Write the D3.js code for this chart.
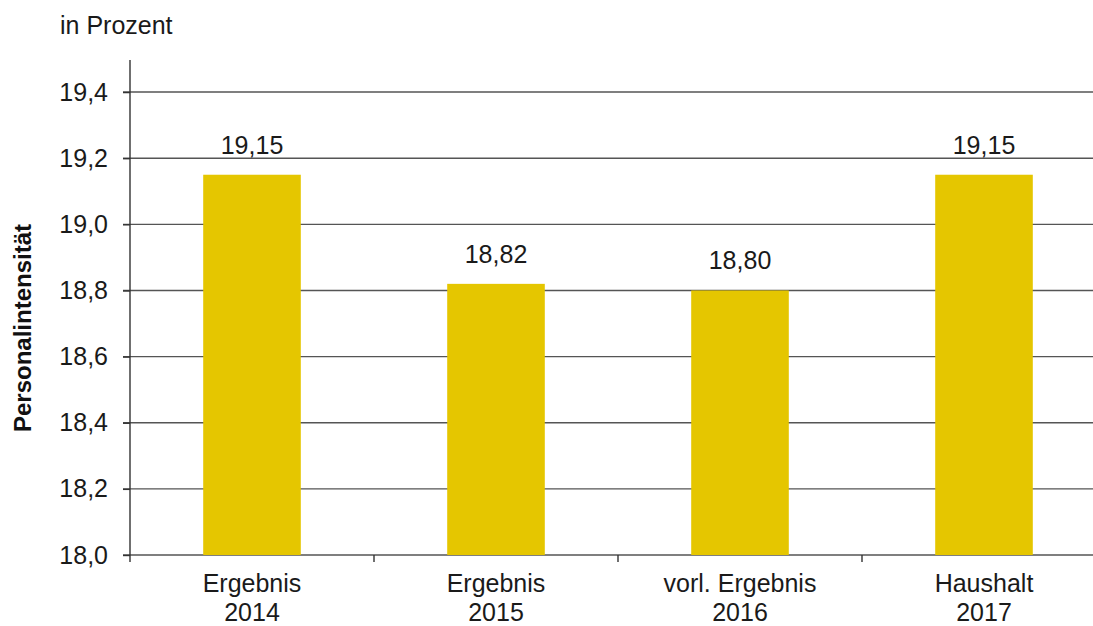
<!DOCTYPE html>
<html>
<head>
<meta charset="utf-8">
<script src="https://cdnjs.cloudflare.com/ajax/libs/d3/7.8.5/d3.min.js"></script>
<style>
  body { margin: 0; background: #fff; }
  svg { display: block; font-family: "Liberation Sans", Arial, sans-serif; }
</style>
</head>
<body>
<script>
// data
var categories = [["Ergebnis", "2014"], ["Ergebnis", "2015"], ["vorl. Ergebnis", "2016"], ["Haushalt", "2017"]];
var values = [19.15, 18.82, 18.80, 19.15];
var valueLabels = ["19,15", "18,82", "18,80", "19,15"];
var yTicks = [18.0, 18.2, 18.4, 18.6, 18.8, 19.0, 19.2, 19.4];

var W = 1093, H = 626;
var mLeft = 130, mBottom = 555, mTop = 59, mRight = 1106;

var svg = d3.select("body").append("svg")
    .attr("width", W)
    .attr("height", H);

var x = d3.scaleBand()
    .domain(d3.range(categories.length))
    .range([mLeft, mRight])
    .padding(0);

var y = d3.scaleLinear()
    .domain([18.0, 19.5])
    .range([mBottom, mTop]);

var fmt = function(d) { return d.toFixed(1).replace(".", ","); };

// gridlines
svg.append("g")
  .selectAll("line")
  .data(yTicks)
  .enter().append("line")
    .attr("x1", mLeft - 7)
    .attr("x2", W)
    .attr("y1", function(d) { return y(d); })
    .attr("y2", function(d) { return y(d); })
    .attr("stroke", "#555")
    .attr("stroke-width", 1.4);

// bars
var barW = x.bandwidth() * 0.4;
svg.append("g")
  .selectAll("rect")
  .data(values)
  .enter().append("rect")
    .attr("x", function(d, i) { return x(i) + (x.bandwidth() - barW) / 2; })
    .attr("y", function(d) { return y(d); })
    .attr("width", barW)
    .attr("height", function(d) { return y(18.0) - y(d); })
    .attr("fill", "#e5c600");

// y axis
var yAxis = d3.axisLeft(y)
    .tickValues(yTicks)
    .tickFormat(fmt)
    .tickSize(7)
    .tickPadding(15);

var gy = svg.append("g")
    .attr("transform", "translate(" + mLeft + ",0)")
    .call(yAxis);
gy.select(".domain").remove();
gy.selectAll(".tick line").attr("stroke", "#333").attr("stroke-width", 1.4);
gy.selectAll(".tick text")
    .attr("font-size", 25)
    .attr("font-family", "Liberation Sans, Arial, sans-serif")
    .attr("fill", "#1a1a1a");

// vertical axis line
svg.append("line")
    .attr("x1", mLeft).attr("x2", mLeft)
    .attr("y1", y(19.5) + 1).attr("y2", mBottom + 7)
    .attr("stroke", "#333").attr("stroke-width", 1.4);

// category ticks at band boundaries
svg.append("g")
  .selectAll("line")
  .data(d3.range(1, categories.length))
  .enter().append("line")
    .attr("x1", function(i) { return x(i); })
    .attr("x2", function(i) { return x(i); })
    .attr("y1", mBottom)
    .attr("y2", mBottom + 7)
    .attr("stroke", "#333")
    .attr("stroke-width", 1.4);

// category labels
var cat = svg.append("g")
  .selectAll("text")
  .data(categories)
  .enter().append("text")
    .attr("text-anchor", "middle")
    .attr("font-size", 25)
    .attr("fill", "#1a1a1a");
cat.append("tspan")
    .attr("x", function(d, i) { return x(i) + x.bandwidth() / 2; })
    .attr("y", 592)
    .text(function(d) { return d[0]; });
cat.append("tspan")
    .attr("x", function(d, i) { return x(i) + x.bandwidth() / 2; })
    .attr("y", 621)
    .text(function(d) { return d[1]; });

// value labels
svg.append("g")
  .selectAll("text")
  .data(values)
  .enter().append("text")
    .attr("x", function(d, i) { return x(i) + x.bandwidth() / 2; })
    .attr("y", function(d) { return y(d) - 21; })
    .attr("text-anchor", "middle")
    .attr("font-size", 25)
    .attr("fill", "#1a1a1a")
    .text(function(d, i) { return valueLabels[i]; });

// unit label
svg.append("text")
    .attr("x", 60)
    .attr("y", 34)
    .attr("font-size", 25)
    .attr("fill", "#1a1a1a")
    .text("in Prozent");

// y axis title
svg.append("text")
    .attr("transform", "translate(31," + 328 + ") rotate(-90)")
    .attr("text-anchor", "middle")
    .attr("font-size", 24)
    .attr("font-weight", "bold")
    .attr("fill", "#111")
    .text("Personalintensität");
</script>
</body>
</html>
